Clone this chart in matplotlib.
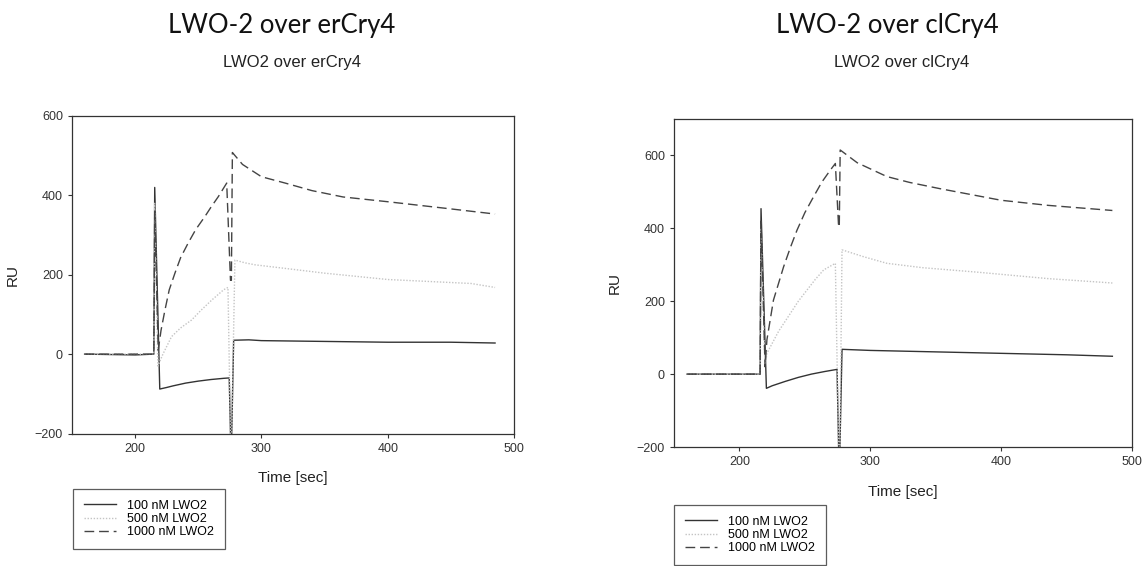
import matplotlib
matplotlib.use("Agg")
import matplotlib.pyplot as plt

plt.rcParams["font.family"] = ["Liberation Sans", "DejaVu Sans"]

# sensorgram traces (time in s, response in RU), erCry4 surface
er_t_100 = [160, 200, 214.8, 215.5, 219.5, 225, 230, 240, 250, 260, 270, 274.5, 275.5, 276.5, 278,
            290, 300, 350, 400, 450, 485]
er_y_100 = [0, -2, 0, 420, -88, -84, -80, -73, -68, -64, -61, -60, -200, -200, 35,
            36, 34, 32, 30, 30, 28]
er_t_500 = [160, 214.8, 215.5, 218, 222, 228.8, 236, 244.7, 252, 260.6, 270, 273.5, 275.5, 276.5, 279,
            287, 295, 318.8, 350, 400, 466, 485]
er_y_500 = [0, 0, 380, -30, 0, 44, 66, 86, 110, 136, 162, 168, -200, -200, 237,
            230, 225, 216, 204, 188, 178, 168]
er_t_1000 = [160, 214.8, 215.5, 218.3, 220.5, 223.6, 227, 231.5, 236, 242, 248, 255.3, 260, 265.9, 272.5,
             275.5, 276.2, 277, 285, 300, 318.8, 340, 364.6, 400, 447, 485]
er_y_1000 = [0, 0, 360, 10, 60, 111, 162, 204, 243, 280, 314, 347, 370, 397, 431,
             186, 186, 508, 478, 447, 431, 412, 396, 384, 367, 353]

# clCry4 surface
cl_t_100 = [160, 215.8, 216.5, 220.6, 225, 235, 245, 255, 265, 274.6, 275.8, 276.8, 278.4,
            300, 350, 400, 450, 485]
cl_y_100 = [0, 0, 454, -39, -32, -20, -9, 0, 7, 13, -200, -200, 68,
            65, 61, 57, 53, 49]
cl_t_500 = [160, 215.8, 216.5, 219.5, 221, 230, 239, 245, 251.7, 258, 264.4, 273.3, 275.8, 276.8, 278.4,
            295, 312.7, 340, 381, 436, 485]
cl_y_500 = [0, 0, 400, 20, 57, 118, 167, 200, 231, 260, 286, 304, -200, -200, 341,
            322, 304, 292, 280, 262, 250]
cl_t_1000 = [160, 215.8, 216.5, 219.6, 221, 226, 233.8, 239, 244, 250, 256.7, 263, 269.5, 273.3,
             275.8, 276.3, 277, 290, 312.7, 330, 353, 400, 436, 485]
cl_y_1000 = [0, 0, 420, 20, 94, 203, 295, 348, 395, 443, 487, 527, 560, 578,
             404, 404, 615, 580, 542, 526, 509, 477, 463, 449]

legend_labels = ["100 nM LWO2", "500 nM LWO2", "1000 nM LWO2"]

fig = plt.figure(figsize=(11.44, 5.66), dpi=100)

panels = [
    dict(rect=[72 / 1144, 132.5 / 566, 442 / 1144, 317.5 / 566], ylim=(-200, 600),
         data=[(er_t_100, er_y_100), (er_t_500, er_y_500), (er_t_1000, er_y_1000)],
         leg_anchor=(0.002, -0.175)),
    dict(rect=[674 / 1144, 119 / 566, 458 / 1144, 328 / 566], ylim=(-200, 700),
         data=[(cl_t_100, cl_y_100), (cl_t_500, cl_y_500), (cl_t_1000, cl_y_1000)],
         leg_anchor=(0.0, -0.177)),
]

styles = [
    dict(color="#333333", lw=1.0, ls="-"),
    dict(color="#c4c4c4", lw=1.0, ls=(0, (1, 1.2))),
    dict(color="#444444", lw=1.0, ls=(0, (7, 3.5))),
]

for p in panels:
    ax = fig.add_axes(p["rect"])
    for (t, y), st, lab in zip(p["data"], styles, legend_labels):
        ax.plot(t, y, label=lab, **st)
    ax.set_xlim(150, 500)
    ax.set_ylim(*p["ylim"])
    ax.set_xticks([200, 300, 400, 500])
    ax.set_yticks([-200, 0, 200, 400, 600])
    ax.tick_params(direction="out", length=3, width=0.8, labelsize=9,
                   labelcolor="#333333", color="#333333")
    for s in ax.spines.values():
        s.set_linewidth(0.9)
        s.set_color("#333333")
    ax.set_xlabel("Time [sec]", fontsize=11, color="#222222", labelpad=12)
    ax.set_ylabel("RU", fontsize=11, color="#222222", labelpad=11)
    leg = ax.legend(loc="upper left", bbox_to_anchor=p["leg_anchor"], fontsize=9,
                    frameon=True, fancybox=False, edgecolor="#333333",
                    handlelength=2.6, labelspacing=0.1, borderpad=0.85,
                    handletextpad=0.9, borderaxespad=0)
    leg.get_frame().set_linewidth(0.9)

fig.text(282 / 1144, 1 - 25 / 566, "LWO-2 over erCry4", ha="center", va="center",
         fontsize=18.5, family=["Lato", "DejaVu Sans"], color="#111111")
fig.text(292 / 1144, 1 - 62 / 566, "LWO2 over erCry4", ha="center", va="center",
         fontsize=12, color="#222222")
fig.text(887 / 1144, 1 - 25 / 566, "LWO-2 over clCry4", ha="center", va="center",
         fontsize=18.5, family=["Lato", "DejaVu Sans"], color="#111111")
fig.text(902 / 1144, 1 - 62 / 566, "LWO2 over clCry4", ha="center", va="center",
         fontsize=12, color="#222222")

fig.savefig("out.png", dpi=100)
